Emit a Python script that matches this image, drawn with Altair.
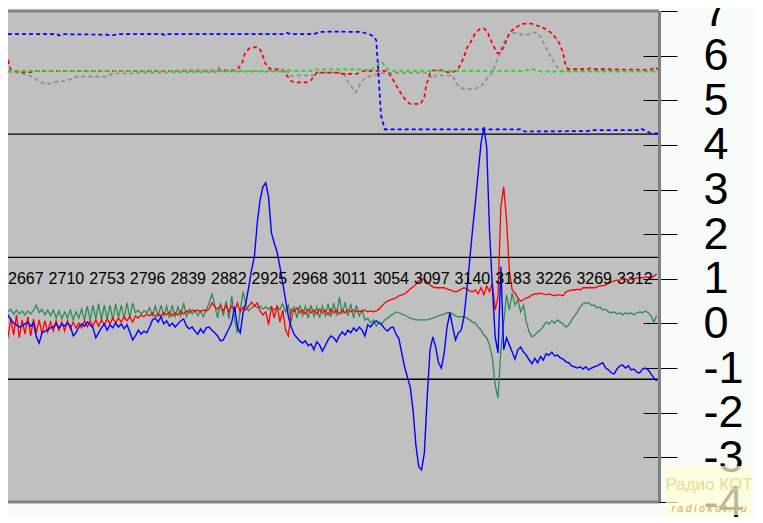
import altair as alt
import pandas as pd

# ---------------- data ----------------
X_START = 2667
STEP = 3  # sample spacing of the solid traces

blue_solid = [
    0.19, 0.08, 0.01, -0.03, -0.08, -0.06, -0.01, 0.03, -0.06, 0.01,
    -0.30, -0.44, -0.21, -0.17, -0.15, -0.10, -0.08, -0.01, -0.10, -0.01,
    -0.06, 0.01, -0.06, -0.28, -0.21, -0.08, -0.01, -0.06, 0.03, -0.03,
    -0.10, -0.32, -0.21, -0.10, -0.01, -0.15, -0.03, -0.10, 0.01, -0.08,
    -0.01, -0.12, -0.03, -0.19, -0.37, -0.28, -0.15, -0.24, -0.17, -0.21,
    -0.08, 0.08, 0.12, 0.03, 0.15, -0.01, 0.06, -0.06, 0.01, -0.08,
    -0.01, 0.06, 0.10, -0.06, -0.12, -0.08, -0.17, -0.24, -0.12, -0.21,
    -0.10, -0.08, -0.15, -0.21, -0.28, -0.39, -0.37, -0.24, -0.12, 0.03,
    0.37, -0.08, -0.21, 0.24, 0.46, 0.82, 1.20, 1.50, 2.25, 2.77,
    3.06, 3.15, 2.83, 2.03, 1.80, 1.60, 1.27, 0.91, 0.53, 0.15,
    -0.08, -0.24, -0.32, -0.39, -0.44, -0.39, -0.50, -0.46, -0.59, -0.41,
    -0.48, -0.62, -0.50, -0.37, -0.28, -0.32, -0.41, -0.28, -0.19, -0.26,
    -0.15, -0.21, -0.10, -0.17, -0.08, -0.15, -0.28, -0.03, -0.08, 0.01,
    0.06, 0.01, -0.03, -0.12, -0.17, -0.10, -0.08, -0.24, -0.34, -0.66,
    -0.97, -1.20, -1.42, -1.94, -2.72, -3.21, -3.28, -2.90, -1.65, -0.59,
    -0.30, -0.53, -0.88, -1.00, -0.66, -0.08, 0.24, -0.08, -0.37, -0.21,
    -0.15, 0.15, 0.75, 1.42, 2.09, 2.70, 3.37, 4.04, 4.40, 3.95,
    2.09, 0.82, -0.30, -0.66, 1.27, -0.59, -0.32, -0.48, -0.64, -0.80,
    -0.59, -0.53, -0.64, -0.71, -0.82, -0.90, -0.78, -0.88, -0.74, -0.82,
    -0.68, -0.71, -0.64, -0.73, -0.71, -0.77, -0.80, -0.86, -0.88, -0.95,
    -0.97, -1.00, -0.97, -1.02, -0.97, -1.04, -1.00, -0.97, -0.95, -0.91,
    -0.88, -1.00, -1.04, -1.11, -1.13, -1.02, -0.95, -0.93, -1.00, -0.95,
    -1.04, -1.02, -1.09, -1.11, -1.02, -1.00, -1.04, -1.13, -1.22, -1.29,
]

red_solid = [
    -0.32, 0.12, -0.26, 0.19, -0.32, 0.08, -0.24, 0.15, -0.28, 0.10,
    -0.21, 0.08, -0.24, 0.06, -0.19, 0.03, -0.17, 0.06, -0.15, 0.03,
    -0.17, 0.06, -0.12, 0.03, -0.10, 0.01, -0.10, 0.06, -0.08, 0.06,
    -0.06, 0.08, -0.06, 0.08, -0.03, 0.10, -0.01, 0.12, 0.01, 0.12,
    0.03, 0.15, 0.06, 0.15, 0.03, 0.17, 0.12, 0.19, 0.15, 0.21,
    0.17, 0.24, 0.15, 0.21, 0.17, 0.24, 0.19, 0.26, 0.17, 0.24,
    0.19, 0.28, 0.21, 0.28, 0.24, 0.30, 0.26, 0.30, 0.26, 0.30,
    0.28, 0.32, 0.46, 0.37, 0.32, 0.39, 0.28, 0.41, 0.26, 0.39,
    0.28, 0.46, 0.26, 0.37, 0.30, 0.39, 0.48, 0.39, 0.46, 0.28,
    0.19, 0.26, -0.03, 0.39, 0.12, 0.41, 0.03, 0.30, -0.15, -0.28,
    0.32, 0.26, 0.35, 0.24, 0.30, 0.21, 0.32, 0.24, 0.30, 0.21,
    0.32, 0.24, 0.30, 0.19, 0.32, 0.24, 0.30, 0.21, 0.30, 0.24,
    0.30, 0.26, 0.30, 0.26, 0.28, 0.26, 0.30, 0.26, 0.28, 0.26,
    0.28, 0.32, 0.39, 0.46, 0.50, 0.53, 0.55, 0.57, 0.62, 0.64,
    0.66, 0.71, 0.77, 0.82, 0.88, 0.95, 1.00, 1.00, 0.93, 0.86,
    0.82, 0.80, 0.80, 0.80, 0.80, 0.77, 0.75, 0.73, 0.71, 0.73,
    0.77, 0.80, 0.77, 0.73, 0.71, 0.75, 0.66, 0.80, 0.64, 0.84,
    0.71, 0.91, 0.30, 0.60, 2.61, 3.06, 2.32, 1.20, 0.75, 0.68,
    0.57, 0.50, 0.53, 0.57, 0.59, 0.64, 0.66, 0.66, 0.68, 0.66,
    0.64, 0.66, 0.64, 0.62, 0.64, 0.64, 0.62, 0.71, 0.73, 0.75,
    0.75, 0.77, 0.75, 0.80, 0.80, 0.80, 0.80, 0.80, 0.82, 0.84,
    0.84, 0.86, 0.91, 0.93, 0.95, 0.97, 0.97, 1.00, 1.00, 0.97,
    1.00, 1.00, 1.02, 1.02, 1.02, 1.04, 1.04, 1.02, 1.06, 1.11,
]

green_solid = [
    0.26, 0.32, 0.21, 0.30, 0.21, 0.28, 0.19, 0.28, 0.21, 0.30,
    0.41, 0.24, 0.32, 0.19, 0.30, 0.17, 0.30, 0.12, 0.28, 0.10,
    0.26, 0.12, 0.30, 0.08, 0.26, 0.12, 0.32, 0.08, 0.39, 0.08,
    0.41, 0.10, 0.44, 0.08, 0.41, 0.10, 0.41, 0.08, 0.44, 0.12,
    0.41, 0.10, 0.46, 0.12, 0.46, 0.24, 0.30, 0.21, 0.28, 0.24,
    0.35, 0.17, 0.39, 0.15, 0.41, 0.17, 0.39, 0.12, 0.41, 0.15,
    0.37, 0.17, 0.46, 0.15, 0.32, 0.21, 0.30, 0.17, 0.28, 0.15,
    0.30, 0.46, 0.66, 0.41, 0.12, 0.46, 0.17, 0.50, 0.10, 0.62,
    0.08, -0.21, 0.30, 0.71, 0.41, 0.28, 0.35, 0.39, 0.35, 0.39,
    0.32, 0.37, 0.32, 0.37, 0.30, 0.37, 0.32, 0.44, 0.26, 0.41,
    0.03, 0.39, 0.12, 0.41, 0.17, 0.39, 0.12, 0.41, 0.15, 0.37,
    0.12, 0.39, 0.17, 0.44, 0.15, 0.46, 0.17, 0.59, 0.21, 0.48,
    0.17, 0.44, 0.12, 0.41, 0.17, 0.30, 0.08, 0.12, 0.01, 0.08,
    -0.06, 0.03, -0.01, 0.08, 0.12, 0.17, 0.21, 0.26, 0.24, 0.21,
    0.19, 0.15, 0.12, 0.10, 0.08, 0.08, 0.08, 0.08, 0.08, 0.10,
    0.12, 0.15, 0.17, 0.19, 0.21, 0.24, 0.24, 0.21, 0.17, 0.15,
    0.15, 0.15, 0.12, 0.08, 0.03, 0.01, -0.08, -0.15, -0.26, -0.32,
    -0.48, -0.77, -1.38, -1.67, -0.59, 0.03, 0.64, 0.30, 0.68, 0.41,
    0.53, 0.26, 0.41, 0.03, -0.19, -0.30, -0.26, -0.19, -0.15, -0.06,
    0.03, -0.01, 0.06, 0.01, 0.08, 0.03, -0.01, -0.08, -0.03, 0.08,
    0.17, 0.26, 0.37, 0.44, 0.46, 0.46, 0.41, 0.41, 0.35, 0.37,
    0.30, 0.32, 0.26, 0.24, 0.26, 0.21, 0.24, 0.19, 0.24, 0.21,
    0.24, 0.19, 0.24, 0.26, 0.24, 0.28, 0.24, 0.17, 0.03, 0.17,
]

blue_dash_x = [2667, 2719, 2721, 2725, 2772, 2775, 2785, 2831, 2834, 2837,
               2957, 2962, 2967, 2991, 2996, 3012, 3040, 3047, 3052, 3057,
               3059, 3062, 3066, 3211, 3214, 3281, 3284, 3334, 3337, 3344,
               3348, 3357]
blue_dash_y = [6.48, 6.48, 6.45, 6.48, 6.47, 6.45, 6.48, 6.48, 6.45, 6.48,
               6.48, 6.51, 6.48, 6.48, 6.53, 6.54, 6.53, 6.50, 6.46, 6.35,
               5.74, 4.67, 4.35, 4.35, 4.30, 4.31, 4.33, 4.33, 4.37, 4.30,
               4.26, 4.26]

red_dash_x = [2667, 2670, 2674, 2681, 2691, 2696, 2830, 2908, 2911, 2915,
              2918, 2923, 2929, 2933, 2936, 2939, 2942, 2946, 2957, 2960,
              2963, 2967, 2970, 2984, 2988, 2991, 2994, 3015, 3020, 3036,
              3040, 3044, 3068, 3072, 3078, 3083, 3089, 3093, 3104, 3108,
              3110, 3114, 3117, 3129, 3132, 3138, 3143, 3146, 3150, 3153,
              3157, 3162, 3167, 3171, 3175, 3177, 3182, 3185, 3188, 3192,
              3195, 3198, 3204, 3211, 3221, 3232, 3239, 3244, 3251, 3255,
              3257, 3260, 3281, 3284, 3287, 3347, 3352, 3357]
red_dash_y = [5.90, 5.68, 5.66, 5.63, 5.63, 5.66, 5.66, 5.67, 5.72, 5.83,
              6.06, 6.17, 6.19, 6.17, 6.06, 5.85, 5.74, 5.69, 5.69, 5.63,
              5.54, 5.43, 5.40, 5.40, 5.45, 5.54, 5.62, 5.62, 5.59, 5.59,
              5.62, 5.66, 5.66, 5.56, 5.34, 5.16, 4.98, 4.92, 4.92, 5.07,
              5.34, 5.61, 5.67, 5.67, 5.63, 5.63, 5.68, 5.79, 5.97, 6.17,
              6.30, 6.51, 6.60, 6.61, 6.53, 6.40, 6.19, 6.06, 6.06, 6.19,
              6.35, 6.51, 6.62, 6.71, 6.72, 6.64, 6.57, 6.48, 6.28, 6.06,
              5.83, 5.70, 5.70, 5.72, 5.70, 5.68, 5.74, 5.68]

gray_dash_x = [2667, 2677, 2688, 2693, 2698, 2704, 2709, 2716, 2727, 2735,
               2740, 2772, 2777, 2782, 2800, 2803, 2834, 2838, 2887, 2890,
               2893, 2963, 2967, 2973, 2991, 2994, 3023, 3026, 3031, 3035,
               3038, 3041, 3047, 3054, 3064, 3109, 3114, 3117, 3120, 3138,
               3141, 3145, 3150, 3161, 3166, 3169, 3174, 3180, 3183, 3187,
               3190, 3195, 3200, 3206, 3211, 3218, 3223, 3227, 3232, 3235,
               3240, 3245, 3251, 3256, 3357]
gray_dash_y = [5.64, 5.62, 5.57, 5.52, 5.45, 5.39, 5.36, 5.41, 5.43, 5.48,
               5.53, 5.53, 5.59, 5.60, 5.60, 5.62, 5.62, 5.63, 5.63, 5.74,
               5.64, 5.64, 5.54, 5.56, 5.56, 5.62, 5.62, 5.45, 5.30, 5.18,
               5.27, 5.41, 5.52, 5.56, 5.61, 5.62, 5.54, 5.48, 5.56, 5.56,
               5.41, 5.30, 5.25, 5.25, 5.30, 5.34, 5.48, 5.63, 5.79, 6.01,
               6.19, 6.40, 6.50, 6.51, 6.47, 6.47, 6.52, 6.51, 6.40, 6.24,
               6.06, 5.86, 5.68, 5.64, 5.64]

green_dash_x = [2667, 2960, 2963, 2966, 2991, 2994, 3044, 3049, 3054, 3059,
                3063, 3068, 3072, 3214, 3218, 3223, 3227, 3232, 3253, 3256,
                3357]
green_dash_y = [5.66, 5.66, 5.69, 5.66, 5.66, 5.69, 5.69, 5.66, 5.72, 5.79,
                5.86, 5.72, 5.66, 5.66, 5.68, 5.70, 5.66, 5.64, 5.64, 5.66,
                5.66]

x_tick_values = [2667, 2710, 2753, 2796, 2839, 2882, 2925, 2968, 3011, 3054,
                 3097, 3140, 3183, 3226, 3269, 3312]
x_label_level = 1.0
y_tick_values = [-4, -3, -2, -1, 0, 1, 2, 3, 4, 5, 6, 7]
separator_levels = [4.24, 1.48, -1.25]

# ---------------- chart ----------------
W, H = 651, 491
xscale = alt.Scale(domain=[2667, 3356.5], nice=False, zero=False)
yscale = alt.Scale(domain=[-4, 7], nice=False, zero=False)
yaxis = alt.Axis(values=y_tick_values, orient="right", offset=-16, tickSize=34,
                 tickColor="black", tickWidth=1, domain=False, grid=False,
                 labelFontSize=45, labelFont="Liberation Sans, Arial",
                 labelColor="black", labelPadding=26, labelOverlap=False,
                 labelBound=False, labelFlush=False, title=None,
                 labelExpr="toString(datum.value)")

X = alt.X("x:Q", scale=xscale, axis=None)
Y = alt.Y("y:Q", scale=yscale, axis=yaxis)


def solid_df(vals):
    return pd.DataFrame({"x": [X_START + STEP * i for i in range(len(vals))], "y": vals})


def line(df, color, width, dash=None):
    kw = dict(color=color, strokeWidth=width, clip=True)
    if dash:
        kw["strokeDash"] = dash
    return alt.Chart(df).mark_line(**kw).encode(x=X, y=Y)


layers = []
# separators
layers.append(alt.Chart(pd.DataFrame({"y": separator_levels})).mark_rule(
    color="black", strokeWidth=1.3).encode(y=Y))

# dashed traces (upper part)
layers.append(line(pd.DataFrame({"x": gray_dash_x, "y": gray_dash_y}), "#8E8E8E", 1.7, [4, 3]))
layers.append(line(pd.DataFrame({"x": red_dash_x, "y": red_dash_y}), "#FF0000", 1.7, [4, 3]))
layers.append(line(pd.DataFrame({"x": green_dash_x, "y": green_dash_y}), "#20DC20", 1.7, [4, 3]))
layers.append(line(pd.DataFrame({"x": blue_dash_x, "y": blue_dash_y}), "#0000FF", 1.7, [4, 3]))

# solid traces (lower part)
layers.append(line(solid_df(green_solid), "#2E8B57", 1.3))
layers.append(line(solid_df(red_solid), "#FF0000", 1.3))
layers.append(line(solid_df(blue_solid), "#0000FF", 1.4))

# x labels inside the plot
layers.append(alt.Chart(pd.DataFrame({"x": x_tick_values, "y": [x_label_level] * len(x_tick_values),
                                      "t": [str(v) for v in x_tick_values]}))
              .mark_text(align="left", baseline="middle", fontSize=16,
                         font="Liberation Sans, Arial", color="black")
              .encode(x=X, y=Y, text="t:N"))

# plot frame (top, bottom, right)
layers.append(alt.Chart(pd.DataFrame({"y": [7, -4]})).mark_rule(
    color="#808080", strokeWidth=3).encode(y=Y))
layers.append(alt.Chart(pd.DataFrame({"a": [0]})).mark_rule(
    color="#808080", strokeWidth=3).encode(x=alt.value(W + 0.5), y=alt.value(0), y2=alt.value(H)))

# watermark
wm = pd.DataFrame({"a": [0]})
layers.append(alt.Chart(wm).mark_rect(fill="#FFFFD6", opacity=0.72).encode(
    x=alt.value(658), x2=alt.value(744), y=alt.value(455), y2=alt.value(504)))
layers.append(alt.Chart(wm).mark_text(text="Радио КОТ", fontSize=17, color="#E6DC96",
                                      font="Liberation Sans, Arial", align="center",
                                      baseline="middle").encode(
    x=alt.value(701), y=alt.value(474)))
layers.append(alt.Chart(wm).mark_text(text="r a d i o k o t . r u", fontSize=10, color="#E0A060",
                                      font="Liberation Sans, Arial", align="center",
                                      baseline="middle", fontStyle="italic").encode(
    x=alt.value(701), y=alt.value(498)))

chart = alt.layer(*layers).properties(
    width=W, height=H,
    autosize=alt.AutoSizeParams(type="none"),
    padding={"left": 0, "top": 3, "right": 96, "bottom": 15},
    background="#F8FCF8",
).configure_view(fill="#C0C0C0", stroke=None)

chart.save("out.html", embed_options={"renderer": "svg", "actions": False})
